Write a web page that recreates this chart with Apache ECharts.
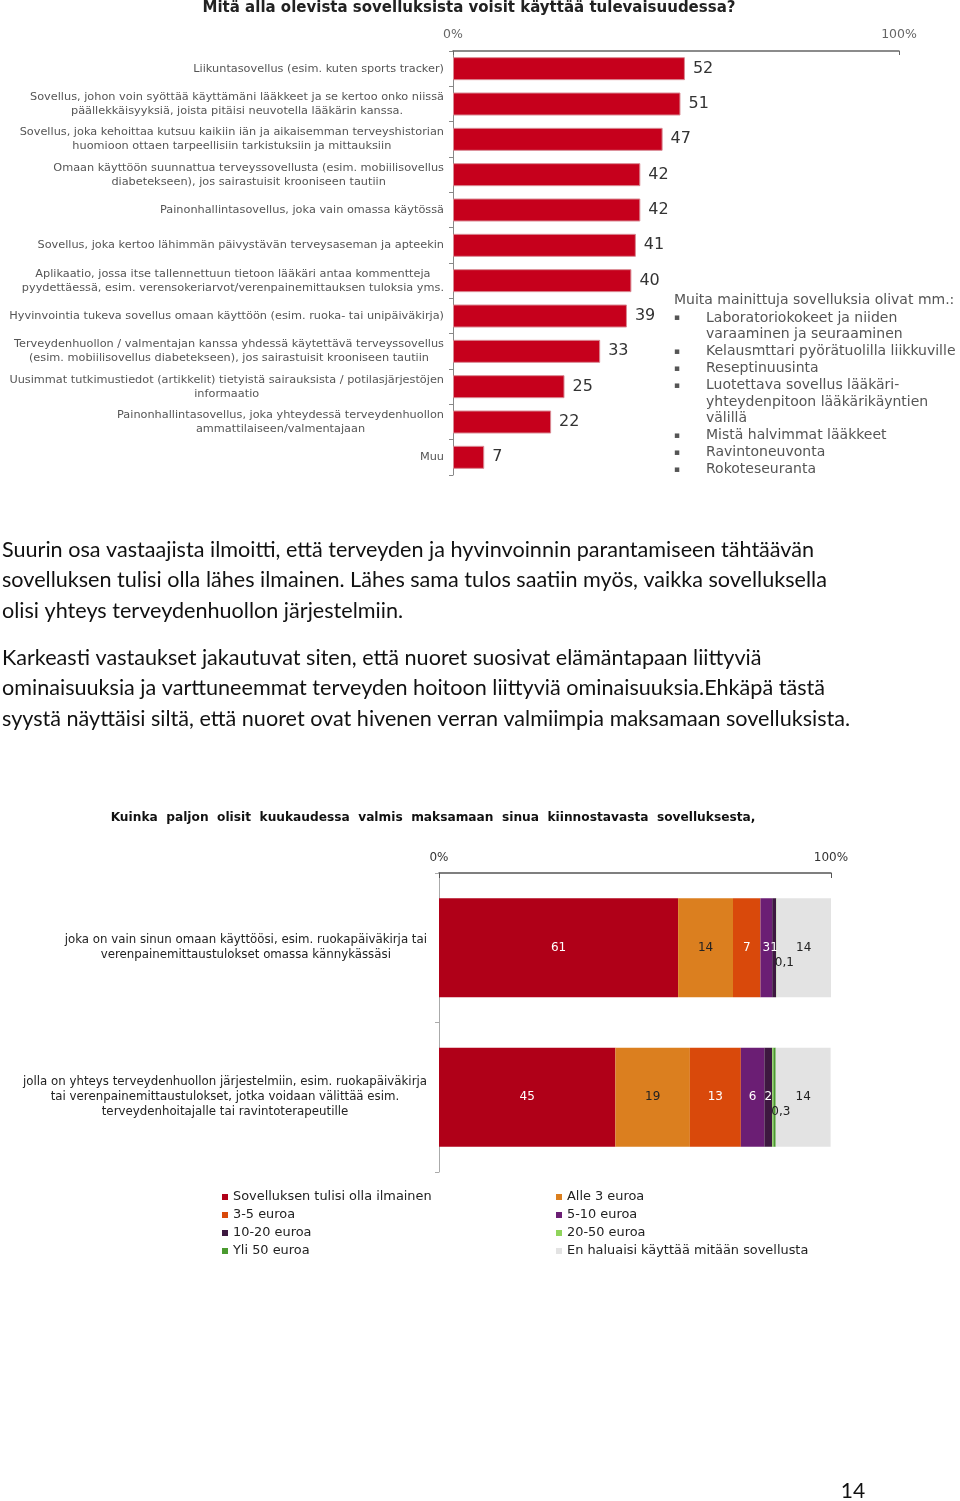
<!DOCTYPE html>
<html>
<head>
<meta charset="utf-8">
<script src="https://cdn.jsdelivr.net/npm/echarts@6/dist/echarts.min.js"></script>
<style>
  html, body { margin: 0; padding: 0; background: #fff; }
  #main { width: 960px; height: 1501px; }
</style>
</head>
<body>
<div id="main"></div>
<script>
// --- kuva 1: mitä sovelluksia voisit käyttää
const appCategories = [
  'Liikuntasovellus (esim. kuten sports tracker)',
  'Sovellus, johon voin syöttää käyttämäni lääkkeet ja se kertoo onko niissä\npäällekkäisyyksiä, joista pitäisi neuvotella lääkärin kanssa.',
  'Sovellus, joka kehoittaa kutsuu kaikiin iän ja aikaisemman terveyshistorian\nhuomioon ottaen tarpeellisiin tarkistuksiin ja mittauksiin',
  'Omaan käyttöön suunnattua terveyssovellusta (esim. mobiilisovellus\ndiabetekseen), jos sairastuisit krooniseen tautiin',
  'Painonhallintasovellus, joka vain omassa käytössä',
  'Sovellus, joka kertoo lähimmän päivystävän terveysaseman ja apteekin',
  'Aplikaatio, jossa itse tallennettuun tietoon lääkäri antaa kommentteja\npyydettäessä, esim. verensokeriarvot/verenpainemittauksen tuloksia yms.',
  'Hyvinvointia tukeva sovellus omaan käyttöön (esim. ruoka- tai unipäiväkirja)',
  'Terveydenhuollon / valmentajan kanssa yhdessä käytettävä terveyssovellus\n(esim. mobiilisovellus diabetekseen), jos sairastuisit krooniseen tautiin',
  'Uusimmat tutkimustiedot (artikkelit) tietyistä sairauksista / potilasjärjestöjen\ninformaatio',
  'Painonhallintasovellus, joka yhteydessä terveydenhuollon\nammattilaiseen/valmentajaan',
  'Muu'
];
const appValues = [52, 51, 47, 42, 42, 41, 40, 39, 33, 25, 22, 7];

const otherAppsTitle = 'Muita mainittuja sovelluksia olivat mm.:';
const otherApps = [
  ['▪', 'Laboratoriokokeet ja niiden'],
  ['', 'varaaminen ja seuraaminen'],
  ['▪', 'Kelausmttari pyörätuolilla liikkuville'],
  ['▪', 'Reseptinuusinta'],
  ['▪', 'Luotettava sovellus lääkäri-'],
  ['', 'yhteydenpitoon lääkärikäyntien'],
  ['', 'välillä'],
  ['▪', 'Mistä halvimmat lääkkeet'],
  ['▪', 'Ravintoneuvonta'],
  ['▪', 'Rokoteseuranta']
];

// --- tekstikappaleet
const para1Lines = [
  'Suurin osa vastaajista ilmoitti, että terveyden ja hyvinvoinnin parantamiseen tähtäävän',
  'sovelluksen tulisi olla lähes ilmainen. Lähes sama tulos saatiin myös, vaikka sovelluksella',
  'olisi yhteys terveydenhuollon järjestelmiin.'
];
const para2Lines = [
  'Karkeasti vastaukset jakautuvat siten, että nuoret suosivat elämäntapaan liittyviä',
  'ominaisuuksia ja varttuneemmat terveyden hoitoon liittyviä ominaisuuksia.Ehkäpä tästä',
  'syystä näyttäisi siltä, että nuoret ovat hivenen verran valmiimpia maksamaan sovelluksista.'
];

// --- kuva 2: maksuhalukkuus
const payCategories = [
  'joka on vain sinun omaan käyttöösi, esim. ruokapäiväkirja tai\nverenpainemittaustulokset omassa kännykässäsi',
  'jolla on yhteys terveydenhuollon järjestelmiin, esim. ruokapäiväkirja\ntai verenpainemittaustulokset, jotka voidaan välittää esim.\nterveydenhoitajalle tai ravintoterapeutille'
];
const payFree = [61, 45];
const payUnder3 = [14, 19];
const pay3to5 = [7, 13];
const pay5to10 = [3, 6];
const pay10to20 = [1, 2];
const pay20to50 = [0.1, 0.3];
const payOver50 = [0, 0.6];
const payNone = [14, 14];

const payNames = [
  'Sovelluksen tulisi olla ilmainen', 'Alle 3 euroa', '3-5 euroa', '5-10 euroa',
  '10-20 euroa', '20-50 euroa', 'Yli 50 euroa', 'En haluaisi käyttää mitään sovellusta'
];
const payColors = ['#b00018', '#db7f1f', '#d9490b', '#6b1e74', '#3d1840', '#8fd45b', '#4a9a2f', '#e3e3e3'];
const payData = [payFree, payUnder3, pay3to5, pay5to10, pay10to20, pay20to50, payOver50, payNone];
const payLabelColors = ['#fff', '#222', '#fff', '#fff', '#fff', '#222', '#222', '#222'];

const pageNumber = '14';

const centered = (v) => v.split('\n').map(l => '{c|' + l + '}').join('\n');
const fmtComma = (p) => p.value === 0 ? '' : String(p.value).replace('.', ',');

let myChart = echarts.init(document.getElementById('main'), null, { renderer: 'canvas' });

let graphics = [];
graphics.push({
  type: 'text', x: 469, y: 8,
  style: { text: 'Mitä alla olevista sovelluksista voisit käyttää tulevaisuudessa?', font: 'bold 15px "DejaVu Sans"', fill: '#222', textAlign: 'center', textVerticalAlign: 'middle' }
});
graphics.push({
  type: 'text', x: 674, y: 300,
  style: { text: otherAppsTitle, font: '14px "DejaVu Sans"', fill: '#555', textAlign: 'left', textVerticalAlign: 'middle' }
});
otherApps.forEach((row, i) => {
  let y = 318 + i * 16.8;
  if (row[0]) {
    graphics.push({ type: 'text', x: 674, y: y, style: { text: row[0], font: '9px "DejaVu Sans"', fill: '#555', textAlign: 'left', textVerticalAlign: 'middle' } });
  }
  graphics.push({ type: 'text', x: 706, y: y, style: { text: row[1], font: '14px "DejaVu Sans"', fill: '#555', textAlign: 'left', textVerticalAlign: 'middle' } });
});
para1Lines.forEach((l, i) => {
  graphics.push({ type: 'text', x: 2, y: 550 + i * 30.5, style: { text: l, font: '21.6px Lato', fill: '#111', textAlign: 'left', textVerticalAlign: 'middle' } });
});
para2Lines.forEach((l, i) => {
  graphics.push({ type: 'text', x: 2, y: 658 + i * 30.5, style: { text: l, font: '21.6px Lato', fill: '#111', textAlign: 'left', textVerticalAlign: 'middle' } });
});
graphics.push({
  type: 'text', x: 433, y: 818,
  style: { text: 'Kuinka  paljon  olisit  kuukaudessa  valmis  maksamaan  sinua  kiinnostavasta  sovelluksesta,', font: 'bold 12.2px "DejaVu Sans"', fill: '#111', textAlign: 'center', textVerticalAlign: 'middle' }
});
graphics.push({
  type: 'text', x: 853, y: 1491,
  style: { text: pageNumber, font: '21px Lato', fill: '#111', textAlign: 'center', textVerticalAlign: 'middle' }
});

let paySeries = payNames.map((name, i) => ({
  name: name,
  type: 'bar',
  stack: 'pay',
  xAxisIndex: 1,
  yAxisIndex: 1,
  barWidth: 99,
  data: payData[i],
  itemStyle: { color: payColors[i] },
  label: {
    // Yli 50 euroa -osuuden arvoa ei näytetä kuvassa
    show: i !== 6,
    position: 'inside',
    offset: i === 5 ? [8, 15] : [0, 0],
    formatter: fmtComma,
    color: payLabelColors[i],
    fontFamily: 'DejaVu Sans',
    fontSize: 12
  }
}));

let option = {
  backgroundColor: '#fff',
  animation: false,
  graphic: graphics,
  grid: [
    { left: 453, top: 51, width: 446, height: 424 },
    { left: 439, top: 873, width: 392, height: 299 }
  ],
  xAxis: [
    {
      gridIndex: 0, type: 'value', position: 'top', min: 0, max: 100, interval: 100,
      axisLine: { show: true, lineStyle: { color: '#666', width: 1.5 } },
      axisTick: { show: true, inside: true, length: 4, lineStyle: { color: '#666' } },
      splitLine: { show: false },
      axisLabel: { formatter: '{value}%', color: '#666', fontFamily: 'DejaVu Sans', fontSize: 12.5, margin: 10 }
    },
    {
      gridIndex: 1, type: 'value', position: 'top', min: 0, max: 100, interval: 100,
      axisLine: { show: true, lineStyle: { color: '#555', width: 1.5 } },
      axisTick: { show: true, inside: true, length: 5, lineStyle: { color: '#555' } },
      splitLine: { show: false },
      axisLabel: { formatter: '{value}%', color: '#333', fontFamily: 'DejaVu Sans', fontSize: 12, margin: 9 }
    }
  ],
  yAxis: [
    {
      gridIndex: 0, type: 'category', inverse: true, data: appCategories,
      axisLine: { show: true, lineStyle: { color: '#888' } },
      axisTick: { show: true, length: 4, lineStyle: { color: '#888' } },
      axisLabel: {
        margin: 9, align: 'right', formatter: centered,
        rich: { c: { align: 'center', fontFamily: 'DejaVu Sans', fontSize: 11.3, lineHeight: 14, color: '#555' } }
      }
    },
    {
      gridIndex: 1, type: 'category', inverse: true, data: payCategories,
      axisLine: { show: true, lineStyle: { color: '#aaa' } },
      axisTick: { show: true, length: 4, lineStyle: { color: '#aaa' } },
      axisLabel: {
        margin: 12, align: 'right', formatter: centered,
        rich: { c: { align: 'center', fontFamily: 'DejaVu Sans', fontSize: 11.8, lineHeight: 15, color: '#222' } }
      }
    }
  ],
  legend: [
    {
      data: [payNames[0], payNames[2], payNames[4], payNames[6]],
      orient: 'vertical', left: 222, top: 1190, padding: 0, itemGap: 4,
      itemWidth: 6, itemHeight: 6, icon: 'rect',
      textStyle: { fontFamily: 'DejaVu Sans', fontSize: 12.9, lineHeight: 14, color: '#222' }
    },
    {
      data: [payNames[1], payNames[3], payNames[5], payNames[7]],
      orient: 'vertical', left: 556, top: 1190, padding: 0, itemGap: 4,
      itemWidth: 6, itemHeight: 6, icon: 'rect',
      textStyle: { fontFamily: 'DejaVu Sans', fontSize: 12.9, lineHeight: 14, color: '#222' }
    }
  ],
  series: [
    {
      name: 'Voisin käyttää',
      type: 'bar',
      xAxisIndex: 0,
      yAxisIndex: 0,
      barWidth: 23,
      data: appValues,
      itemStyle: { color: '#c6001c', borderColor: '#d98a94', borderWidth: 1 },
      label: { show: true, position: 'right', distance: 8, color: '#333', fontFamily: 'DejaVu Sans', fontSize: 16 }
    }
  ].concat(paySeries)
};

myChart.setOption(option);
window.addEventListener('resize', myChart.resize);
</script>
</body>
</html>
